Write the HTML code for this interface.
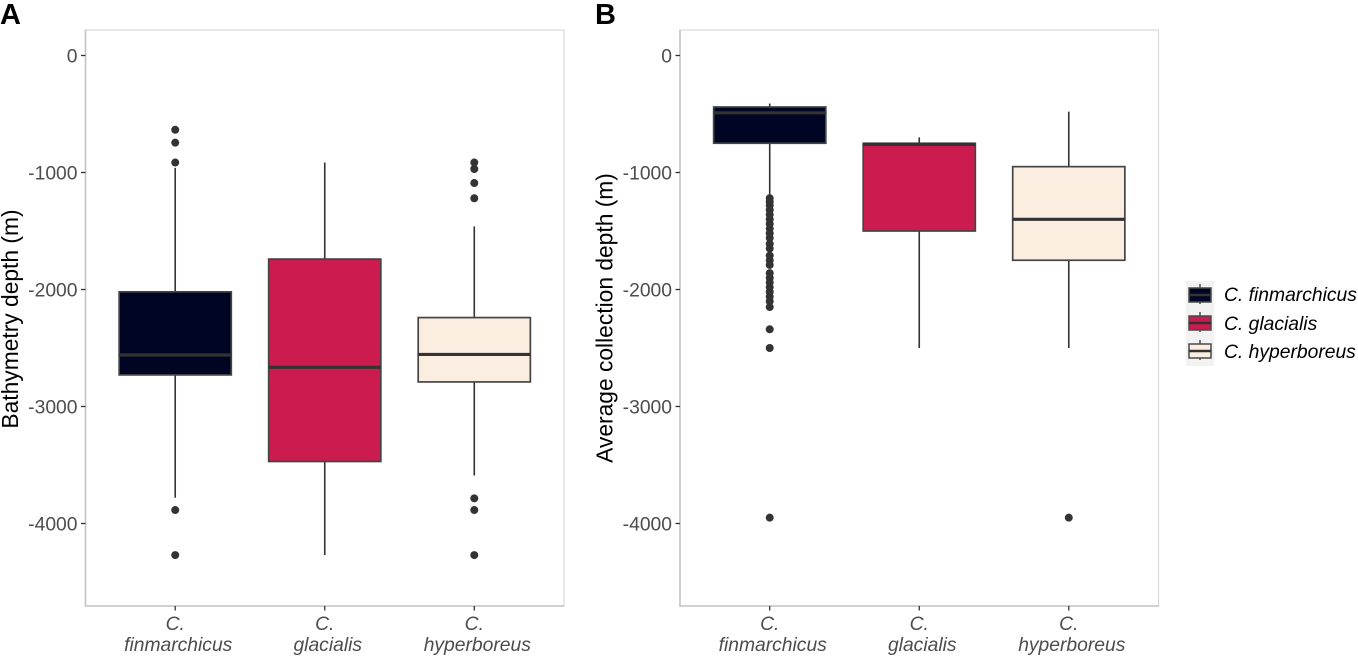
<!DOCTYPE html>
<html>
<head>
<meta charset="utf-8">
<style>
html,body{margin:0;padding:0;background:#fff;width:1358px;height:656px;overflow:hidden}
svg{display:block;font-family:"Liberation Sans",sans-serif}
</style>
</head>
<body>
<svg id="fig" width="1358" height="656" viewBox="0 0 1358 656" xmlns="http://www.w3.org/2000/svg">
  <text x="0" y="24" font-size="29" font-weight="bold" fill="#000">A</text>
  <text x="595" y="24" font-size="29" font-weight="bold" fill="#000">B</text>
  <text transform="translate(18,319) rotate(-90)" text-anchor="middle" font-size="22.8" fill="#000">Bathymetry depth (m)</text>
  <text transform="translate(612.5,318) rotate(-90)" text-anchor="middle" font-size="22.8" fill="#000">Average collection depth (m)</text>

  <g id="panelA"></g>
  <g id="panelB"></g>

  <g>
    <rect x="1186" y="281" width="28" height="85" fill="#f2f2f2"/>
    <g>
      <line x1="1200" x2="1200" y1="284" y2="304" stroke="#333" stroke-width="1.3"/>
      <rect x="1189" y="288" width="22" height="14" fill="#000523" stroke="#4a4a4a" stroke-width="1.5"/>
      <line x1="1189" x2="1211" y1="295" y2="295" stroke="#333" stroke-width="2.4"/>
    </g>
    <g>
      <line x1="1200" x2="1200" y1="312" y2="332" stroke="#333" stroke-width="1.3"/>
      <rect x="1189" y="316" width="22" height="14" fill="#cc1b4e" stroke="#4a4a4a" stroke-width="1.5"/>
      <line x1="1189" x2="1211" y1="323" y2="323" stroke="#333" stroke-width="2.4"/>
    </g>
    <g>
      <line x1="1200" x2="1200" y1="340" y2="360" stroke="#333" stroke-width="1.3"/>
      <rect x="1189" y="344" width="22" height="14" fill="#fbeee0" stroke="#4a4a4a" stroke-width="1.5"/>
      <line x1="1189" x2="1211" y1="351" y2="351" stroke="#333" stroke-width="2.4"/>
    </g>
    <text x="1224" y="301" font-size="19.3" font-style="italic" fill="#000">C. finmarchicus</text>
    <text x="1224" y="330" font-size="19.3" font-style="italic" fill="#000">C. glacialis</text>
    <text x="1224" y="358" font-size="19.3" font-style="italic" fill="#000">C. hyperboreus</text>
  </g>
</svg>
<script>
// Shared chart data
const speciesLine1 = ["C.", "C.", "C."];
const speciesLine2 = ["finmarchicus", "glacialis", "hyperboreus"];
const speciesKeys = ["finmarchicus", "glacialis", "hyperboreus"];
const fillColors = ["#000523", "#cc1b4e", "#fbeee0"];
const yTickValues = [0, -1000, -2000, -3000, -4000];
const yTickLabels = ["0", "-1000", "-2000", "-3000", "-4000"];

// Panel A: bathymetry depth
const bathyWhiskerHigh = [-960, -915, -1460];
const bathyQ3 = [-2020, -1740, -2240];
const bathyMedian = [-2560, -2665, -2555];
const bathyQ1 = [-2730, -3470, -2790];
const bathyWhiskerLow = [-3780, -4270, -3590];
const bathyOutliersFin = [-635, -745, -915, -3885, -4270];
const bathyOutliersGla = [];
const bathyOutliersHyp = [-915, -970, -1090, -1220, -3785, -3885, -4270];

// Panel B: average collection depth
const collectWhiskerHigh = [-410, -700, -480];
const collectQ3 = [-440, -750, -950];
const collectMedian = [-490, -760, -1400];
const collectQ1 = [-750, -1500, -1750];
const collectWhiskerLow = [-1200, -2500, -2500];
const collectOutliersFin = [-1220, -1250, -1280, -1320, -1360, -1400, -1440, -1480, -1520, -1560, -1610, -1650, -1710, -1750, -1790, -1860, -1900, -1940, -1980, -2020, -2060, -2100, -2150, -2340, -2500, -3950];
const collectOutliersGla = [];
const collectOutliersHyp = [-3950];

const NS = "http://www.w3.org/2000/svg";
const yZero = 55.5, yPerUnit = 0.117;
function yScale(v) { return yZero - v * yPerUnit; }

function mk(parent, tag, attrs) {
  const el = document.createElementNS(NS, tag);
  for (const k in attrs) el.setAttribute(k, attrs[k]);
  parent.appendChild(el);
  return el;
}

function drawPanel(root, prefix, left, right, stats, outliers) {
  const top = 30, bottom = 606;
  const step = (right - left) / 3.2;
  const xScale = i => left + step * (0.6 + i);
  const halfBox = step * 0.375;

  const frame = mk(root, "rect", {x: left, y: top, width: right - left, height: bottom - top, fill: "#fff", stroke: "#d9d9d9", "stroke-width": 1.2});
  
  

  const yAxis = mk(root, "line", {x1: left, x2: left, y1: top, y2: bottom, stroke: "#c4c4c4", "stroke-width": 1.6});
  
  

  const xAxis = mk(root, "line", {x1: left - 0.8, x2: right + 0.6, y1: bottom, y2: bottom, stroke: "#c4c4c4", "stroke-width": 1.6});
  
  

  yTickValues.forEach((v, i) => {
    const y = yScale(v);
    const tick = mk(root, "line", {x1: left - 4.5, x2: left, y1: y, y2: y, stroke: "#333", "stroke-width": 1.3});
    
    
    const label = mk(root, "text", {x: left - 8, y: y + 6.8, "text-anchor": "end", "font-size": 19.3, fill: "#4d4d4d"});
    label.textContent = yTickLabels[i];
    
    
  });

  speciesKeys.forEach((key, i) => {
    const x = xScale(i);

    const tick = mk(root, "line", {x1: x, x2: x, y1: bottom, y2: bottom + 4.5, stroke: "#333", "stroke-width": 1.3});
    
    

    const l1 = mk(root, "text", {x: x, y: 630, "text-anchor": "middle", "font-size": 19.3, "font-style": "italic", fill: "#4d4d4d"});
    l1.textContent = speciesLine1[i];
    
    

    const l2 = mk(root, "text", {x: x + 3, y: 651, "text-anchor": "middle", "font-size": 19.3, "font-style": "italic", fill: "#4d4d4d"});
    l2.textContent = speciesLine2[i];
    
    

    const whisker = mk(root, "line", {x1: x, x2: x, y1: yScale(stats.high[i]), y2: yScale(stats.low[i]), stroke: "#333", "stroke-width": 1.6});
    
    

    const box = mk(root, "rect", {x: x - halfBox, y: yScale(stats.q3[i]), width: halfBox * 2, height: yScale(stats.q1[i]) - yScale(stats.q3[i]), fill: fillColors[i], stroke: "#444", "stroke-width": 1.7});
    
    

    const med = mk(root, "line", {x1: x - halfBox, x2: x + halfBox, y1: yScale(stats.med[i]), y2: yScale(stats.med[i]), stroke: "#333", "stroke-width": 3.2});
    
    

    outliers[i].forEach(v => {
      const dot = mk(root, "circle", {cx: x, cy: yScale(v), r: 4, fill: "#333"});
      
      
    });
  });
}

drawPanel(document.getElementById("panelA"), "panel-a", 85.5, 564,
  {high: bathyWhiskerHigh, q3: bathyQ3, med: bathyMedian, q1: bathyQ1, low: bathyWhiskerLow},
  [bathyOutliersFin, bathyOutliersGla, bathyOutliersHyp]);
drawPanel(document.getElementById("panelB"), "panel-b", 680, 1158.5,
  {high: collectWhiskerHigh, q3: collectQ3, med: collectMedian, q1: collectQ1, low: collectWhiskerLow},
  [collectOutliersFin, collectOutliersGla, collectOutliersHyp]);
</script>
</body>
</html>
